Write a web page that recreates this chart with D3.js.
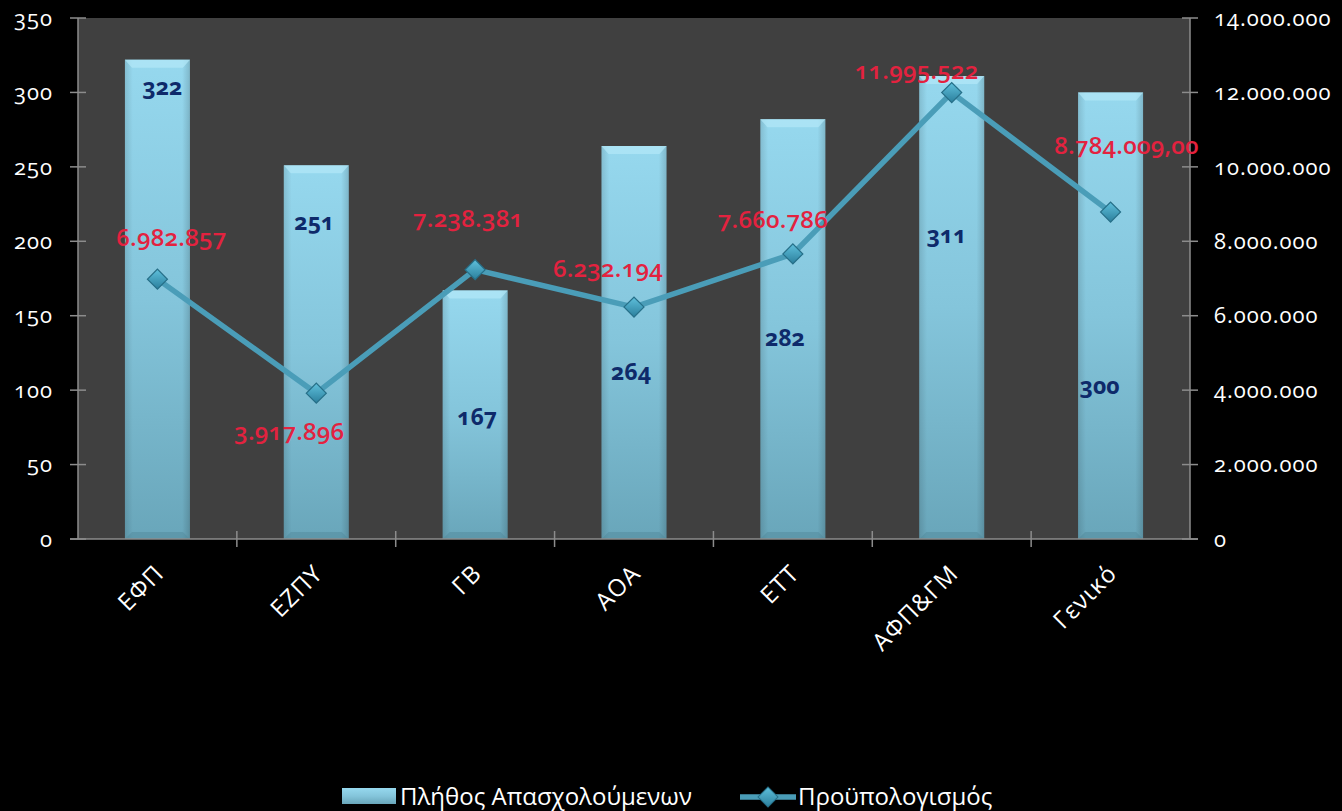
<!DOCTYPE html>
<html><head><meta charset="utf-8">
<script src="https://cdn.jsdelivr.net/npm/d3@7"></script>
<style>
html,body{margin:0;padding:0;background:#000;}
svg{display:block;}
text{font-family:"Open Sans","Noto Sans",sans-serif;font-variant-numeric:oldstyle-nums;}
</style></head>
<body><svg id="c" width="1342" height="811"></svg>
<script>
const categories = ["ΕΦΠ","ΕΖΠΥ","ΓΒ","ΑΟΑ","ΕΤΤ","ΑΦΠ&ΓΜ","Γενικό"];
const employees = [322,251,167,264,282,311,300];
const budget = [6982857,3917896,7238381,6232194,7660786,11995522,8784009];
const budgetLabels = ["6.982.857","3.917.896","7.238.381","6.232.194","7.660.786","11.995.522","8.784.009,00"];
const leftTicks = [0,50,100,150,200,250,300,350];
const rightTicks = [0,2000000,4000000,6000000,8000000,10000000,12000000,14000000];
const rightTickLabels = ["0","2.000.000","4.000.000","6.000.000","8.000.000","10.000.000","12.000.000","14.000.000"];
// where the bar value labels sit (in left-axis units), as placed in the original chart
const barLabelAnchor = [304,213,82,112,135,204,103];
const seriesNames = ["Πλήθος Απασχολούμενων","Προϋπολογισμός"];

const svg = d3.select("#c");
const m = {l:78, r:1190, t:18, b:539};
const x = d3.scaleBand().domain(categories).range([m.l,m.r]).paddingInner(0).paddingOuter(0);
const yL = d3.scaleLinear().domain([0,350]).range([m.b,m.t]);
const yR = d3.scaleLinear().domain([0,14000000]).range([m.b,m.t]);

const defs = svg.append("defs");
const bg = defs.append("linearGradient").attr("id","barg").attr("x1",0).attr("y1",0).attr("x2",0).attr("y2",1);
bg.append("stop").attr("offset","0%").attr("stop-color","#96d8ee");
bg.append("stop").attr("offset","50%").attr("stop-color","#84c5db");
bg.append("stop").attr("offset","100%").attr("stop-color","#69a6ba");
const bh = defs.append("linearGradient").attr("id","barh").attr("x1",0).attr("y1",0).attr("x2",1).attr("y2",0);
bh.append("stop").attr("offset","0%").attr("stop-color","#000").attr("stop-opacity",0.12);
bh.append("stop").attr("offset","12%").attr("stop-color","#000").attr("stop-opacity",0);
bh.append("stop").attr("offset","88%").attr("stop-color","#000").attr("stop-opacity",0);
bh.append("stop").attr("offset","100%").attr("stop-color","#000").attr("stop-opacity",0.15);
const dg = defs.append("linearGradient").attr("id","diag").attr("x1",0).attr("y1",0).attr("x2",1).attr("y2",1);
dg.append("stop").attr("offset","0%").attr("stop-color","#5fc0dc");
dg.append("stop").attr("offset","100%").attr("stop-color","#2b7f9c");

// plot background
svg.append("rect").attr("x",m.l).attr("y",m.t).attr("width",m.r-m.l).attr("height",m.b-m.t).attr("fill","#404040");

// bars
const bw = 65;
const bars = svg.append("g");
categories.forEach((c,i)=>{
  const bx = x(c)+x.bandwidth()/2-bw/2, by = yL(employees[i]), h = yL(0)-yL(employees[i]);
  bars.append("rect").attr("x",bx).attr("y",by).attr("width",bw).attr("height",h).attr("fill","url(#barg)");
  bars.append("rect").attr("x",bx).attr("y",by).attr("width",bw).attr("height",h).attr("fill","url(#barh)");
  bars.append("path").attr("d",`M${bx},${by}L${bx+bw},${by}L${bx+bw-7},${by+8}L${bx+7},${by+8}Z`).attr("fill","#b4e8f8").attr("opacity",0.7);
  bars.append("path").attr("d",`M${bx},${by+h}L${bx+bw},${by+h}L${bx+bw-7},${by+h-7}L${bx+7},${by+h-7}Z`).attr("fill","#4f8799").attr("opacity",0.45);
});

// axes
const axG = svg.append("g").attr("stroke","#8c8c8c").attr("stroke-width",1.5);
axG.append("line").attr("x1",m.l).attr("x2",m.l).attr("y1",m.t).attr("y2",m.b);
axG.append("line").attr("x1",m.r).attr("x2",m.r).attr("y1",m.t).attr("y2",m.b);
axG.append("line").attr("x1",m.l-8).attr("x2",m.r+8).attr("y1",m.b).attr("y2",m.b);
leftTicks.forEach(t=>axG.append("line").attr("x1",m.l-8).attr("x2",m.l+8).attr("y1",yL(t)).attr("y2",yL(t)));
rightTicks.forEach(t=>axG.append("line").attr("x1",m.r-8).attr("x2",m.r+8).attr("y1",yR(t)).attr("y2",yR(t)));
categories.forEach((c,i)=>{ if(i>0) axG.append("line").attr("x1",x(c)).attr("x2",x(c)).attr("y1",m.b-8).attr("y2",m.b+8); });

svg.append("g").selectAll("text").data(leftTicks).join("text")
  .attr("x",53).attr("y",d=>yL(d)).attr("dy","0.35em").attr("text-anchor","end")
  .attr("fill","#fff").attr("font-size",22).attr("letter-spacing",1).text(d=>d);
svg.append("g").selectAll("text").data(rightTicks).join("text")
  .attr("x",1214).attr("y",d=>yR(d)).attr("dy","0.35em").attr("text-anchor","start")
  .attr("fill","#fff").attr("font-size",22).attr("letter-spacing",1).text((d,i)=>rightTickLabels[i]);

svg.append("g").selectAll("text").data(categories).join("text")
  .attr("transform",d=>`translate(${x(d)+x.bandwidth()/2+2},${m.b+30}) rotate(-45)`)
  .attr("text-anchor","end").attr("dy","0.35em").attr("fill","#fff").attr("font-size",24).attr("letter-spacing",1).text(d=>d);

// line
const cx = d=>x(d)+x.bandwidth()/2;
const line = d3.line().x((d,i)=>cx(categories[i])).y(d=>yR(d));
svg.append("path").datum(budget).attr("d",line).attr("fill","none").attr("stroke","#4a9db8").attr("stroke-width",5.5).attr("stroke-linejoin","round");
svg.append("g").selectAll("path").data(budget).join("path")
  .attr("d",d3.symbol().type(d3.symbolSquare).size(200))
  .attr("transform",(d,i)=>`translate(${cx(categories[i])},${yR(d)}) rotate(45)`)
  .attr("fill","url(#diag)").attr("stroke","#266f88").attr("stroke-width",1.2);

// bar labels
const barLblDx = [5,-2,2,-3,-8,-5,-11];
svg.append("g").selectAll("text").data(employees).join("text")
  .attr("x",(d,i)=>cx(categories[i])+barLblDx[i]).attr("y",(d,i)=>yL(barLabelAnchor[i])).attr("dy","0.35em")
  .attr("text-anchor","middle").attr("fill","#0e2a6a").attr("font-size",23).attr("font-weight","bold").text(d=>d);

// line labels offsets relative to the point
const lblOff = [[14,-42],[-27,38],[-7,-51],[-26,-38],[-20,-34],[-35,-22],[16,-67]];
svg.append("g").selectAll("text").data(budget).join("text")
  .attr("x",(d,i)=>cx(categories[i])+lblOff[i][0]).attr("y",(d,i)=>yR(d)+lblOff[i][1]).attr("dy","0.35em")
  .attr("text-anchor","middle").attr("fill","#e3223f").attr("font-size",24).attr("font-weight",600).attr("letter-spacing",0.3).text((d,i)=>budgetLabels[i]);

// legend
const lg = svg.append("g");
lg.append("rect").attr("x",342).attr("y",788).attr("width",54).attr("height",16).attr("fill","url(#barg)");
lg.append("text").attr("x",400).attr("y",797).attr("dy","0.35em").attr("fill","#fff").attr("font-size",24).text(seriesNames[0]);
lg.append("line").attr("x1",740).attr("x2",796).attr("y1",797).attr("y2",797).attr("stroke","#4a9db8").attr("stroke-width",5.5);
lg.append("path").attr("d",d3.symbol().type(d3.symbolSquare).size(200)).attr("transform","translate(768,797) rotate(45)").attr("fill","url(#diag)").attr("stroke","#266f88");
lg.append("text").attr("x",798).attr("y",797).attr("dy","0.35em").attr("fill","#fff").attr("font-size",24).text(seriesNames[1]);
</script></body></html>
